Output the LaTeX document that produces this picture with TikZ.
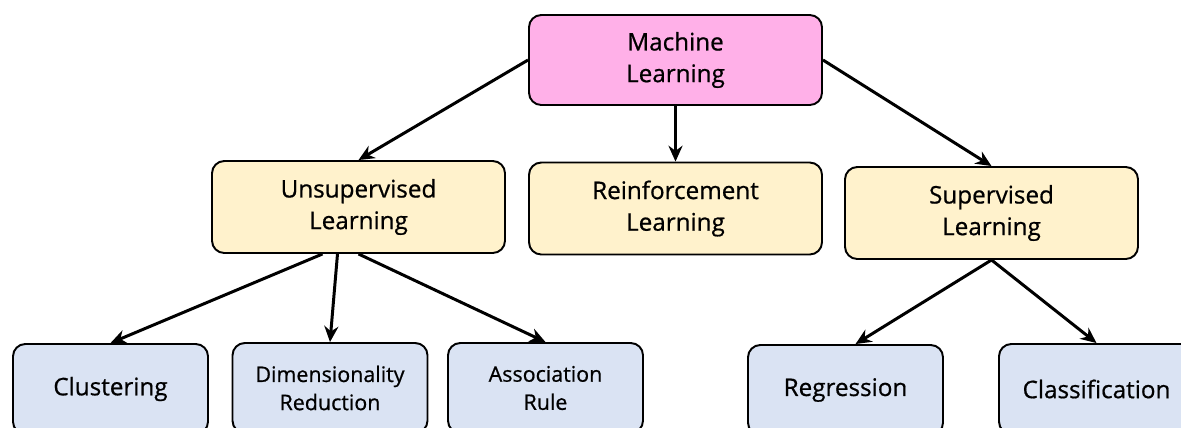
\documentclass[tikz,border=0pt]{standalone}
\usepackage{fontspec}
\setmainfont{Open Sans}[FakeBold=0.7]
\usetikzlibrary{arrows.meta}
\definecolor{mlpink}{HTML}{FFB0E8}
\definecolor{catyellow}{HTML}{FFF2CC}
\definecolor{algblue}{HTML}{DAE3F3}
\tikzset{>={Stealth[length=9pt,width=8pt]},
  box/.style={draw, line width=1.1pt, rounded corners=7pt, align=center,
    font=\fontsize{13.8}{18}\selectfont, inner sep=0pt},
  mlbox/.style={box, fill=mlpink, minimum width=5.86cm, minimum height=1.8cm},
  catbox/.style={box, fill=catyellow, minimum width=5.86cm, minimum height=1.84cm},
  algbox/.style={box, fill=algblue, minimum width=3.9cm, minimum height=1.8cm},
  small/.style={font=\fontsize{12.2}{16}\selectfont},
  link/.style={->, line width=1.7pt}}

\begin{document}
\begin{tikzpicture}
\useasboundingbox (0,0) rectangle (23.62,-8.54);
% top
\node[mlbox] (ml) at (13.51,-1.20) {Machine\\Learning};
% learning types
\node[catbox] (unsup) at (7.17,-4.14) {Unsupervised\\Learning};
\node[catbox] (reinf) at (13.51,-4.17) {Reinforcement\\Learning};
\node[catbox] (sup) at (19.83,-4.26) {Supervised\\Learning};
% algorithms
\node[algbox] (clus) at (2.21,-7.78) {Clustering};
\node[algbox, small] (dim) at (6.60,-7.76) {Dimensionality\\Reduction};
\node[algbox, small] (assoc) at (10.91,-7.76) {Association\\Rule};
\node[algbox] (regr) at (16.91,-7.80) {Regression};
\node[algbox] (class) at (21.93,-7.78) {Classification};
% links
\draw[link] (ml.west) -- (unsup.north);
\draw[link] (ml.south) -- (reinf.north);
\draw[link] (ml.east) -- (sup.north);
\draw[link] ([xshift=-0.72cm]unsup.south) -- (clus.north);
\draw[link] ([xshift=-0.42cm]unsup.south) -- (dim.north);
\draw[link] (unsup.south) -- (assoc.north);
\draw[link] (sup.south) -- ([xshift=0.2cm]regr.north);
\draw[link] (sup.south) -- (class.north);
\end{tikzpicture}
\end{document}
